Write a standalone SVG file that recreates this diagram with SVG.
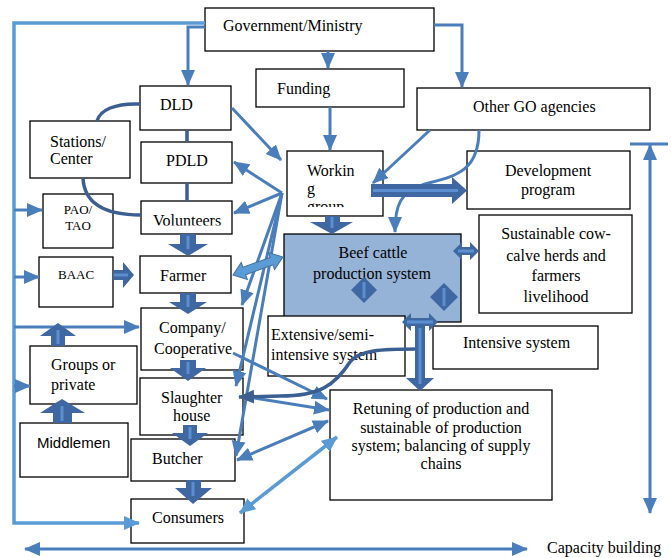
<svg xmlns="http://www.w3.org/2000/svg" width="671" height="558" viewBox="0 0 671 558">
<style>
.box{fill:#fff;stroke:#000;stroke-width:1.3}
.beef{fill:#95B3D7}
.t{font-family:"Liberation Serif","Times New Roman",serif;font-size:16px;fill:#000}
.s13{font-size:13px}
.sans{font-family:"Liberation Sans",Arial,sans-serif;font-size:15px}
.c{stroke:#4A7EBB;stroke-width:3;fill:none}
.lt{stroke:#5B9BD5;stroke-width:3.5;fill:none}
.dk{stroke:#3B5F91;stroke-width:3.5;fill:none}
.blk{fill:#3F68A3}
.stripe{stroke:#5B8FD0;stroke-width:3;fill:none}
.dbl{fill:#5B9BD5;stroke:#41719C;stroke-width:1}
</style>
<defs>
<marker id="am" markerUnits="userSpaceOnUse" markerWidth="16" markerHeight="16" viewBox="0 0 16 16" refX="15" refY="8" orient="auto-start-reverse"><path d="M0,1 L16,8 L0,15 z" fill="#4A7EBB"/></marker>
<marker id="al" markerUnits="userSpaceOnUse" markerWidth="16" markerHeight="16" viewBox="0 0 16 16" refX="15" refY="8" orient="auto-start-reverse"><path d="M0,1 L16,8 L0,15 z" fill="#5B9BD5"/></marker>
<marker id="ad" markerUnits="userSpaceOnUse" markerWidth="16" markerHeight="16" viewBox="0 0 16 16" refX="15" refY="8" orient="auto-start-reverse"><path d="M0,1 L16,8 L0,15 z" fill="#3B5F91"/></marker>
<clipPath id="cg"><rect x="290" y="150" width="90" height="57"/></clipPath>
<clipPath id="cv"><rect x="141" y="200" width="90" height="25.5"/></clipPath>
</defs>

<g id="nodes">
<g id="gov"><rect class="box" x="205" y="8" width="229" height="43"/><text class="t" x="223" y="31">Government/Ministry</text></g>
<g id="funding"><rect class="box" x="256" y="69" width="148" height="38"/><text class="t" x="277" y="94">Funding</text></g>
<g id="othergo"><rect class="box" x="417" y="88" width="233" height="42"/><text class="t" x="473" y="112">Other GO agencies</text></g>
<g id="dld"><rect class="box" x="140" y="86" width="91" height="44"/><text class="t" x="160" y="110">DLD</text></g>
<g id="stations"><rect class="box" x="30" y="121" width="100" height="57"/><text class="t" x="50" y="147">Stations/</text><text class="t" x="50" y="164">Center</text></g>
<g id="pdld"><rect class="box" x="141" y="142" width="91" height="41"/><text class="t" x="166" y="166">PDLD</text></g>
<g id="working"><rect class="box" x="287" y="151" width="96" height="65"/><text class="t" x="307" y="176">Workin</text><text class="t" x="307" y="194">g</text><text class="t" x="307" y="212" clip-path="url(#cg)">group</text></g>
<g id="devprog"><rect class="box" x="467" y="151" width="163" height="58"/><text class="t" x="548" y="176" text-anchor="middle">Development</text><text class="t" x="548" y="195" text-anchor="middle">program</text></g>
<g id="sustainable"><rect class="box" x="479" y="215" width="153" height="98"/><text class="t" x="556" y="239" text-anchor="middle">Sustainable cow-</text><text class="t" x="556" y="261" text-anchor="middle">calve herds and</text><text class="t" x="556" y="281" text-anchor="middle">farmers</text><text class="t" x="556" y="302" text-anchor="middle">livelihood</text></g>
<g id="beef"><rect class="box beef" x="284" y="234" width="177" height="88"/><text class="t" x="373" y="258" text-anchor="middle">Beef cattle</text><text class="t" x="372" y="279" text-anchor="middle">production system</text></g>
<g id="extensive"><rect class="box" x="268" y="316" width="137" height="60"/><text class="t" x="271" y="340">Extensive/semi-</text><text class="t" x="271" y="360">intensive system</text></g>
<g id="intensive"><rect class="box" x="433" y="326" width="165" height="43"/><text class="t" x="463" y="348">Intensive system</text></g>
<g id="retuning"><rect class="box" x="330" y="390" width="222" height="110"/><text class="t" x="441" y="414" text-anchor="middle">Retuning of production and</text><text class="t" x="441" y="433" text-anchor="middle">sustainable of production</text><text class="t" x="441" y="451" text-anchor="middle">system; balancing of supply</text><text class="t" x="441" y="469" text-anchor="middle">chains</text></g>
<g id="paotao"><rect class="box" x="43" y="194" width="70" height="54"/><text class="t s13" x="78" y="214" text-anchor="middle">PAO/</text><text class="t s13" x="78" y="230" text-anchor="middle">TAO</text></g>
<g id="volunteers"><rect class="box" x="141" y="201" width="91" height="33"/><text class="t" x="153" y="226" clip-path="url(#cv)">Volunteers</text></g>
<g id="baac"><rect class="box" x="39" y="257" width="74" height="50"/><text class="t s13" x="58" y="279">BAAC</text></g>
<g id="farmer"><rect class="box" x="140" y="256" width="91" height="37"/><text class="t" x="160" y="281">Farmer</text></g>
<g id="company"><rect class="box" x="141" y="308" width="102" height="62"/><text class="t" x="159" y="333">Company/</text><text class="t" x="154" y="354">Cooperative</text></g>
<g id="groups"><rect class="box" x="30" y="346" width="107" height="58"/><text class="t" x="51" y="370">Groups or</text><text class="t" x="51" y="390">private</text></g>
<g id="middlemen"><rect class="box" x="20" y="423" width="108" height="54"/><text class="t sans" x="37" y="448">Middlemen</text></g>
<g id="slaughter"><rect class="box" x="140" y="378" width="103" height="57"/><text class="t" x="161" y="403">Slaughter</text><text class="t" x="173" y="421">house</text></g>
<g id="butcher"><rect class="box" x="131" y="439" width="104" height="42"/><text class="t" x="152" y="464">Butcher</text></g>
<g id="consumers"><rect class="box" x="131" y="499" width="113" height="44"/><text class="t" x="152" y="523">Consumers</text></g>
<text class="t" x="547" y="553">Capacity building</text>
</g>

<g id="connectors">
<!-- left bracket -->
<polyline class="lt" points="205,23 14,23 14,523 139,523" marker-end="url(#al)"/>
<line class="c" x1="14" y1="210" x2="42" y2="210" marker-end="url(#am)"/>
<line class="c" x1="14" y1="277" x2="39" y2="277" marker-end="url(#am)"/>
<line class="c" x1="14" y1="327" x2="139" y2="327" marker-end="url(#am)"/>
<line class="c" x1="14" y1="386" x2="30" y2="386" marker-end="url(#am)"/>
<!-- government -->
<polyline class="c" points="205,27 188,27 188,85" marker-end="url(#am)"/>
<line class="c" x1="328" y1="51" x2="328" y2="68" marker-end="url(#am)"/>
<polyline class="c" points="434,25 462,25 462,87" marker-end="url(#am)"/>
<line class="c" x1="330" y1="107" x2="330" y2="150" marker-end="url(#am)"/>
<line class="c" x1="430" y1="130" x2="373" y2="183" marker-end="url(#am)"/>
<path class="c" d="M479,130 C479,172 455,176 425,184 C400,192 395,205 395,232" marker-end="url(#am)"/>
<!-- DLD chain -->
<line class="dk" x1="187" y1="130" x2="187" y2="142"/>
<line class="dk" x1="187" y1="183" x2="187" y2="201"/>
<path class="dk" d="M140,104 C115,103 100,110 97,121"/>
<path class="dk" d="M83,178 C84,200 100,215 141,215"/>
<line class="c" x1="232" y1="108" x2="281" y2="160" marker-end="url(#am)"/>
<!-- fan -->
<line class="c" x1="282" y1="193" x2="234" y2="162" marker-end="url(#am)"/>
<line class="c" x1="282" y1="193" x2="234" y2="213" marker-end="url(#am)"/>
<line class="c" x1="282" y1="193" x2="242" y2="305" marker-end="url(#am)"/>
<line class="c" x1="282" y1="193" x2="236" y2="386" marker-end="url(#am)"/>
<line class="c" x1="282" y1="193" x2="236" y2="456" marker-end="url(#am)"/>
<!-- to retuning -->
<line class="c" x1="233" y1="353" x2="327" y2="399" marker-end="url(#am)"/>
<line class="c" x1="242" y1="396" x2="329" y2="410" marker-end="url(#am)"/>
<line class="c" x1="237" y1="460" x2="328" y2="421" marker-start="url(#am)" marker-end="url(#am)"/>
<line class="lt" x1="240" y1="513" x2="337" y2="437" stroke-width="3" marker-start="url(#al)" marker-end="url(#al)"/>
<path class="dk" d="M418,349 C380,349 360,350 350,362 C335,385 320,396 280,396 L239,397" marker-end="url(#ad)"/>
<!-- capacity building -->
<line class="c" x1="25" y1="549" x2="527" y2="549" stroke-width="4" marker-start="url(#am)" marker-end="url(#am)"/>
<line class="c" x1="650" y1="145" x2="650" y2="513" marker-start="url(#am)" marker-end="url(#am)"/>
<line class="c" x1="630" y1="144" x2="668" y2="144" stroke-width="4"/>
<!-- block arrows -->
<path class="blk" d="M180,234 H196 V244 H208 L188,256 L168,244 H180 Z"/><line class="stripe" x1="188" y1="236" x2="188" y2="249"/>
<path class="blk" d="M180,293 H196 V302 H207 L188,314 L169,302 H180 Z"/><line class="stripe" x1="188" y1="295" x2="188" y2="307"/>
<path class="blk" d="M180,360 H196 V368 H206 L188,381 L170,368 H180 Z"/><line class="stripe" x1="188" y1="362" x2="188" y2="374"/>
<path class="blk" d="M183,425 H197 V433 H208 L190,446 L172,433 H183 Z"/><line class="stripe" x1="190" y1="427" x2="190" y2="439"/>
<path class="blk" d="M186,480 H201 V488 H212 L193,504 L175,488 H186 Z"/><line class="stripe" x1="193" y1="482" x2="193" y2="496"/>
<path class="blk" d="M113,270 H123 V262 L134,275 L123,288 V280 H113 Z"/><line class="stripe" x1="114" y1="275" x2="128" y2="275"/>
<path class="blk" d="M51,346 V336 H40 L58,323 L76,336 H65 V346 Z"/><line class="stripe" x1="58" y1="344" x2="58" y2="330"/>
<path class="blk" d="M53,423 V413 H40 L62,399 L85,413 H72 V423 Z"/><line class="stripe" x1="62" y1="421" x2="62" y2="406"/>
<path class="blk" d="M325,216 H340 V222 H353 L332,234 L310,222 H325 Z"/><line class="stripe" x1="332" y1="217" x2="332" y2="228"/>
<path class="blk" d="M371,184 H452 V177 L467,190.5 L452,204 V197 H371 Z"/><line class="stripe" x1="373" y1="190.5" x2="458" y2="190.5"/>
<path class="blk" d="M453,251 L462,242 L462,247 L470,247 L470,242 L479,251 L470,260 L470,255 L462,255 L462,260 Z"/><line class="stripe" x1="458" y1="251" x2="474" y2="251" stroke-width="2"/>
<path class="blk" d="M402,322 L411,313 L411,318 L429,318 L429,313 L438,322 L429,331 L429,326 L425,326 V378 H434 L420,391 L406,378 H415 V326 L411,326 L411,331 Z"/><line class="stripe" x1="407" y1="322" x2="433" y2="322" stroke-width="2"/><line class="stripe" x1="420" y1="328" x2="420" y2="384" stroke-width="2"/>
<path class="blk" d="M364,277 L377,290 L364,303 L351,290 Z"/><line class="stripe" x1="364" y1="282" x2="364" y2="298" stroke-width="2"/>
<path class="blk" d="M444,283 L458,297 L444,311 L430,297 Z"/><line class="stripe" x1="444" y1="288" x2="444" y2="306" stroke-width="2"/>
<path class="dbl" transform="translate(233,275) rotate(-19.8)" d="M0,0 L12,-9 L12,-4 L41,-4 L41,-9 L53,0 L41,9 L41,4 L12,4 L12,9 Z"/>
</g>
</svg>
